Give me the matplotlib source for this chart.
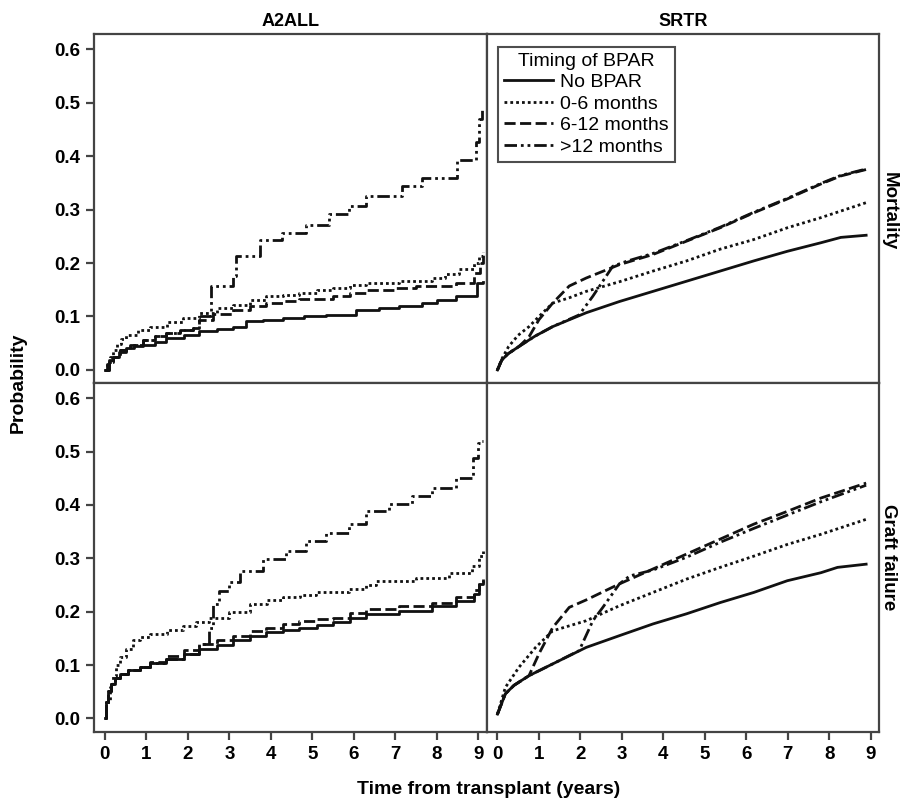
import matplotlib
matplotlib.use("Agg")
import matplotlib.pyplot as plt

plt.rcParams['font.family'] = ['Liberation Sans', 'DejaVu Sans']

# ---------------- data ----------------
groups = ["No BPAR", "0-6 months", "6-12 months", ">12 months"]
x_ticks = [0, 1, 2, 3, 4, 5, 6, 7, 8, 9]
y_ticks = [0.0, 0.1, 0.2, 0.3, 0.4, 0.5, 0.6]
col_titles = ["A2ALL", "SRTR"]
row_titles = ["Mortality", "Graft failure"]

# A2ALL - Mortality (step curves)
a2_mort_none_t = [0, 0.05, 0.1, 0.2, 0.35, 0.52, 0.7, 0.92, 1.2, 1.48, 1.9, 2.28, 2.7, 3.08, 3.4, 3.8, 4.29, 4.8, 5.33, 6.05, 6.6, 7.09, 7.65, 8.0, 8.45, 8.97, 9.12]
a2_mort_none_p = [0, 0.01, 0.018, 0.025, 0.033, 0.041, 0.044, 0.047, 0.053, 0.06, 0.066, 0.072, 0.076, 0.081, 0.091, 0.094, 0.097, 0.1, 0.103, 0.113, 0.116, 0.119, 0.125, 0.13, 0.138, 0.163, 0.165]
a2_mort_06_t = [0, 0.05, 0.12, 0.2, 0.3, 0.4, 0.52, 0.8, 1.08, 1.5, 1.88, 2.28, 2.7, 3.08, 3.5, 3.89, 4.3, 4.69, 5.1, 5.49, 5.9, 6.29, 7.09, 7.89, 8.2, 8.53, 8.9, 9.01, 9.12]
a2_mort_06_p = [0, 0.012, 0.025, 0.038, 0.048, 0.058, 0.066, 0.074, 0.081, 0.09, 0.097, 0.107, 0.115, 0.122, 0.13, 0.138, 0.141, 0.144, 0.149, 0.154, 0.158, 0.163, 0.166, 0.172, 0.18, 0.188, 0.2, 0.213, 0.22]
a2_mort_612_t = [0, 0.1, 0.2, 0.36, 0.6, 0.92, 1.2, 1.48, 1.8, 2.12, 2.28, 2.6, 3.08, 3.5, 3.89, 4.3, 4.69, 5.49, 5.9, 6.29, 7.0, 7.49, 8.45, 8.9, 9.05, 9.12]
a2_mort_612_p = [0, 0.015, 0.025, 0.038, 0.047, 0.056, 0.063, 0.069, 0.074, 0.078, 0.094, 0.104, 0.113, 0.12, 0.125, 0.129, 0.132, 0.138, 0.144, 0.150, 0.154, 0.157, 0.163, 0.182, 0.2, 0.213]
a2_mort_12p_t = [0, 0.1, 0.2, 0.36, 0.6, 0.92, 1.2, 1.48, 1.8, 2.12, 2.28, 2.56, 3.08, 3.15, 3.73, 4.28, 4.85, 5.41, 5.89, 6.29, 7.17, 7.65, 8.49, 8.94, 9.01, 9.08, 9.12]
a2_mort_12p_p = [0, 0.015, 0.025, 0.038, 0.047, 0.056, 0.063, 0.069, 0.074, 0.078, 0.100, 0.157, 0.175, 0.213, 0.244, 0.257, 0.272, 0.291, 0.307, 0.326, 0.345, 0.360, 0.392, 0.426, 0.47, 0.49, 0.49]

# A2ALL - Graft failure (step curves)
a2_graft_none_t = [0, 0.03, 0.08, 0.15, 0.25, 0.36, 0.55, 0.84, 1.1, 1.48, 1.9, 2.28, 2.7, 3.08, 3.5, 3.89, 4.3, 4.69, 5.1, 5.49, 5.9, 6.29, 7.09, 7.89, 8.45, 8.9, 9.02, 9.12]
a2_graft_none_p = [0, 0.03, 0.052, 0.065, 0.075, 0.083, 0.09, 0.096, 0.103, 0.111, 0.121, 0.13, 0.138, 0.146, 0.154, 0.161, 0.166, 0.170, 0.175, 0.180, 0.188, 0.195, 0.202, 0.211, 0.220, 0.233, 0.252, 0.255]
a2_graft_06_t = [0, 0.04, 0.12, 0.2, 0.28, 0.36, 0.5, 0.68, 0.85, 1.08, 1.5, 1.88, 2.2, 2.52, 3.0, 3.49, 3.9, 4.29, 4.7, 5.09, 5.89, 6.3, 6.53, 7.49, 8.29, 8.85, 9.02, 9.12]
a2_graft_06_p = [0, 0.03, 0.058, 0.08, 0.1, 0.115, 0.13, 0.146, 0.152, 0.158, 0.166, 0.174, 0.181, 0.189, 0.2, 0.214, 0.221, 0.227, 0.232, 0.236, 0.242, 0.25, 0.258, 0.264, 0.273, 0.286, 0.305, 0.314]
a2_graft_612_t = [0, 0.03, 0.08, 0.15, 0.25, 0.36, 0.55, 0.84, 1.1, 1.48, 1.9, 2.28, 2.7, 3.08, 3.5, 3.89, 4.3, 4.69, 5.1, 5.49, 5.9, 6.29, 7.09, 7.89, 8.45, 8.9, 9.02, 9.12]
a2_graft_612_p = [0, 0.03, 0.052, 0.065, 0.075, 0.083, 0.09, 0.097, 0.106, 0.117, 0.128, 0.139, 0.147, 0.155, 0.163, 0.170, 0.177, 0.183, 0.186, 0.189, 0.197, 0.205, 0.211, 0.217, 0.227, 0.24, 0.255, 0.262]
a2_graft_12p_t = [0, 0.03, 0.08, 0.15, 0.25, 0.36, 0.55, 0.84, 1.1, 1.48, 1.9, 2.28, 2.52, 2.6, 2.76, 3.0, 3.25, 3.8, 4.37, 4.85, 5.33, 5.89, 6.29, 6.85, 7.41, 7.89, 8.45, 8.88, 8.98, 9.06, 9.12]
a2_graft_12p_p = [0, 0.03, 0.052, 0.065, 0.075, 0.083, 0.09, 0.096, 0.103, 0.111, 0.121, 0.140, 0.170, 0.214, 0.239, 0.255, 0.276, 0.298, 0.314, 0.332, 0.348, 0.364, 0.388, 0.401, 0.416, 0.432, 0.451, 0.488, 0.516, 0.52, 0.52]

# SRTR - Mortality (smooth curves)
sr_mort_none_t = [0, 0.1, 0.25, 0.52, 0.9, 1.33, 2.14, 2.94, 3.75, 4.56, 5.37, 6.18, 6.99, 7.8, 8.28, 8.89]
sr_mort_none_p = [0, 0.018, 0.03, 0.044, 0.063, 0.081, 0.107, 0.128, 0.147, 0.166, 0.185, 0.204, 0.222, 0.238, 0.248, 0.252]
sr_mort_06_t = [0, 0.1, 0.27, 0.5, 0.76, 1.0, 1.33, 1.73, 2.14, 2.94, 3.75, 4.56, 5.37, 6.18, 6.99, 7.8, 8.89]
sr_mort_06_p = [0, 0.02, 0.044, 0.065, 0.081, 0.1, 0.125, 0.135, 0.147, 0.165, 0.185, 0.204, 0.226, 0.244, 0.266, 0.285, 0.313]
sr_mort_612_t = [0, 0.1, 0.25, 0.52, 0.76, 1.0, 1.33, 1.73, 2.14, 2.94, 3.75, 4.56, 5.37, 6.18, 6.99, 7.8, 8.28, 8.89]
sr_mort_612_p = [0, 0.018, 0.03, 0.044, 0.062, 0.094, 0.125, 0.157, 0.172, 0.197, 0.216, 0.241, 0.266, 0.294, 0.320, 0.348, 0.363, 0.375]
sr_mort_12p_t = [0, 0.1, 0.25, 0.52, 0.9, 1.33, 1.97, 2.3, 2.54, 2.78, 3.1, 3.75, 4.56, 5.37, 6.18, 6.99, 7.8, 8.28, 8.89]
sr_mort_12p_p = [0, 0.018, 0.03, 0.044, 0.063, 0.081, 0.103, 0.138, 0.166, 0.194, 0.203, 0.218, 0.242, 0.267, 0.295, 0.321, 0.349, 0.364, 0.376]

# SRTR - Graft failure (smooth curves)
sr_graft_none_t = [0, 0.19, 0.4, 0.76, 1.33, 2.14, 2.94, 3.75, 4.56, 5.37, 6.18, 6.99, 7.8, 8.2, 8.89]
sr_graft_none_p = [0.008, 0.046, 0.062, 0.080, 0.102, 0.133, 0.155, 0.177, 0.196, 0.217, 0.236, 0.258, 0.273, 0.283, 0.289]
sr_graft_06_t = [0, 0.19, 0.52, 0.92, 1.33, 2.14, 2.94, 3.75, 4.56, 5.37, 6.18, 6.99, 7.8, 8.89]
sr_graft_06_p = [0.008, 0.058, 0.096, 0.133, 0.164, 0.183, 0.211, 0.236, 0.261, 0.283, 0.304, 0.326, 0.345, 0.373]
sr_graft_612_t = [0, 0.19, 0.4, 0.76, 1.0, 1.33, 1.73, 2.14, 2.94, 3.75, 4.56, 5.37, 6.18, 6.99, 7.8, 8.89]
sr_graft_612_p = [0.008, 0.046, 0.062, 0.080, 0.121, 0.170, 0.208, 0.222, 0.252, 0.280, 0.308, 0.336, 0.364, 0.388, 0.413, 0.441]
sr_graft_12p_t = [0, 0.19, 0.4, 0.76, 1.33, 1.97, 2.3, 2.54, 2.94, 3.19, 3.75, 4.56, 5.37, 6.18, 6.99, 7.8, 8.89]
sr_graft_12p_p = [0.008, 0.046, 0.062, 0.080, 0.102, 0.127, 0.183, 0.208, 0.252, 0.267, 0.278, 0.302, 0.330, 0.356, 0.381, 0.406, 0.437]

panels = {
    (0, 0): [(a2_mort_none_t, a2_mort_none_p), (a2_mort_06_t, a2_mort_06_p), (a2_mort_612_t, a2_mort_612_p), (a2_mort_12p_t, a2_mort_12p_p)],
    (0, 1): [(sr_mort_none_t, sr_mort_none_p), (sr_mort_06_t, sr_mort_06_p), (sr_mort_612_t, sr_mort_612_p), (sr_mort_12p_t, sr_mort_12p_p)],
    (1, 0): [(a2_graft_none_t, a2_graft_none_p), (a2_graft_06_t, a2_graft_06_p), (a2_graft_612_t, a2_graft_612_p), (a2_graft_12p_t, a2_graft_12p_p)],
    (1, 1): [(sr_graft_none_t, sr_graft_none_p), (sr_graft_06_t, sr_graft_06_p), (sr_graft_612_t, sr_graft_612_p), (sr_graft_12p_t, sr_graft_12p_p)],
}

# ---------------- styling ----------------
line_styles = ['-', (0, (1, 1.1)), (0, (4, 1.6)), (0, (4.5, 1.4, 1, 1.4, 1, 1.4))]
line_color = '#111111'
lw = 2.0
frame_color = '#444444'

fig = plt.figure(figsize=(9.02, 8.01), dpi=100)
W, H = 902.0, 801.0
xl = [94, 486.7]
xr = [486.7, 879]
yt = [34.3, 383.3]
yb = [383.3, 731.7]

def make_ax(xs, ys):
    return fig.add_axes([xs[0] / W, 1 - ys[1] / H, (xs[1] - xs[0]) / W, (ys[1] - ys[0]) / H])

axes = {
    (0, 0): make_ax(xl, yt),
    (0, 1): make_ax(xr, yt),
    (1, 0): make_ax(xl, yb),
    (1, 1): make_ax(xr, yb),
}

for (r, c), ax in axes.items():
    for i, (t, p) in enumerate(panels[(r, c)]):
        kw = dict(color=line_color, lw=lw, linestyle=line_styles[i], label=groups[i])
        if c == 0:
            ax.plot(t, p, drawstyle='steps-post', **kw)
        else:
            ax.plot(t, p, **kw)
    ax.set_xlim(-0.26, 9.2)
    ax.set_ylim(-0.025, 0.628)
    for s in ax.spines.values():
        s.set_color(frame_color)
        s.set_linewidth(1.6)
    ax.tick_params(direction='out', length=6, width=1.6, color=frame_color,
                   labelsize=13.5, pad=4)
    ax.set_xticks(x_ticks)
    ax.set_yticks(y_ticks)
    if c == 0:
        ax.set_yticklabels([f"{v:.1f}" for v in y_ticks], fontweight='bold')
    else:
        ax.tick_params(axis='y', left=False, labelleft=False)
    if r == 1:
        ax.set_xticklabels([str(v) for v in x_ticks], fontweight='bold')
    else:
        ax.tick_params(axis='x', bottom=False, labelbottom=False)

leg = axes[(0, 1)].legend(title="Timing of BPAR", loc='upper left',
                          bbox_to_anchor=(0.029, 0.964), borderaxespad=0,
                          fancybox=False, frameon=True, fontsize=14,
                          title_fontsize=14, handlelength=2.5, handletextpad=0.4,
                          labelspacing=0.2, borderpad=0.3)
leg.get_frame().set_edgecolor('#222222')
leg.get_frame().set_linewidth(1.5)

# titles and labels
fig.text(((xl[0] + xl[1]) / 2) / W, 1 - 22 / H, col_titles[0], ha='center', va='center',
         fontsize=13, fontweight='bold')
fig.text(((xr[0] + xr[1]) / 2) / W, 1 - 22 / H, col_titles[1], ha='center', va='center',
         fontsize=13, fontweight='bold')
fig.text(889 / W, 1 - 211 / H, row_titles[0], rotation=-90, ha='center', va='center',
         fontsize=13.5, fontweight='bold')
fig.text(889 / W, 1 - 557 / H, row_titles[1], rotation=-90, ha='center', va='center',
         fontsize=13.5, fontweight='bold')
fig.text(18 / W, 1 - 383 / H, "Probability", rotation=90, ha='center', va='center',
         fontsize=14, fontweight='bold')
fig.text(489 / W, 1 - 790 / H, "Time from transplant (years)", ha='center', va='center',
         fontsize=14, fontweight='bold')

fig.savefig("out.png", dpi=100)
